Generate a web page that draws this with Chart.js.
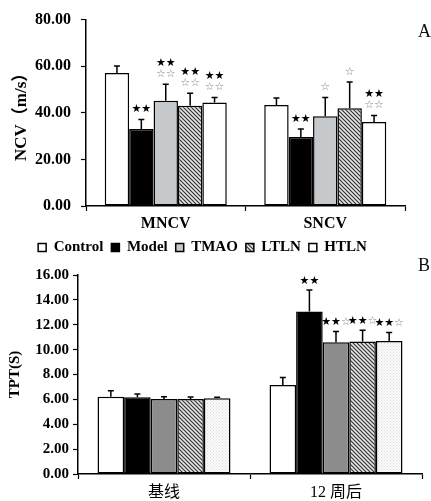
<!DOCTYPE html>
<html>
<head>
<meta charset="utf-8">
<script src="https://cdn.jsdelivr.net/npm/chart.js@4.4.0/dist/chart.umd.min.js"></script>
<style>
    body { margin: 0; background: #fff; }
    #wrap { position: relative; width: 431px; height: 501px; overflow: hidden; background: #fff; }
    canvas { position: absolute; left: 0; }
    #ncvChart { top: 0; }
    #tptChart { top: 250px; }
    .panel { position: absolute; font-family: 'Liberation Serif', serif; font-size: 18px; color: #111; }
</style>
</head>
<body>
<div id="wrap">
    <canvas id="ncvChart" width="431" height="265"></canvas>
    <canvas id="tptChart" width="431" height="251"></canvas>
    <div class="panel" style="left: 418px; top: 21px;">A</div>
    <div class="panel" style="left: 418px; top: 255px;">B</div>
</div>
<script>
// Groups and categories
const groupNames = ['Control', 'Model', 'TMAO', 'LTLN', 'HTLN'];
const ncvCategories = ['MNCV', 'SNCV'];
const tptCategories = ['基线', '12 周后'];

// Panel A: NCV (m/s), one row per group [MNCV, SNCV]
const ncvMeans = [[57.1, 43.3], [33.1, 29.6], [45.2, 38.5], [43.0, 41.9], [44.4, 36.0]];
const ncvSD = [[3.0, 3.0], [4.0, 3.5], [7.0, 8.1], [5.4, 11.3], [2.2, 2.8]];
// B = black star, W = open star, | = new line (top line first)
const ncvStars = [['', ''], ['BB', 'BB'], ['BB|WW', 'W'], ['BB|WW', 'W'], ['BB|WW', 'BB|WW']];

// Panel B: TPT (s), one row per group [baseline, 12 weeks]
const tptMeans = [[6.22, 7.15], [6.17, 13.07], [6.04, 10.6], [6.04, 10.65], [6.09, 10.7]];
const tptSD = [[0.48, 0.6], [0.27, 1.73], [0.18, 0.86], [0.16, 0.9], [0.08, 0.68]];
const tptStars = [['', ''], ['', 'BB'], ['', 'BBW'], ['', 'BBW'], ['', 'BBW']];

const SERIF = "'Liberation Serif', 'Noto Sans CJK SC', serif";

// Fill patterns
function hatchPattern() {
    const c = document.createElement('canvas');
    c.width = 4; c.height = 4;
    const g = c.getContext('2d');
    g.fillStyle = '#e6e6e6';
    g.fillRect(0, 0, 4, 4);
    g.strokeStyle = '#333';
    g.lineWidth = 1.2;
    g.beginPath();
    g.moveTo(-1, -1); g.lineTo(5, 5);
    g.moveTo(-1, 3); g.lineTo(1, 5);
    g.moveTo(3, -1); g.lineTo(5, 1);
    g.stroke();
    return g.createPattern(c, 'repeat');
}

function dotPattern() {
    const c = document.createElement('canvas');
    c.width = 3; c.height = 3;
    const g = c.getContext('2d');
    g.fillStyle = '#fbfbfb';
    g.fillRect(0, 0, 3, 3);
    g.fillStyle = '#dcdcdc';
    g.fillRect(0, 0, 1, 1);
    g.fillRect(1.5, 1.5, 1, 1);
    return g.createPattern(c, 'repeat');
}

function groupFills(tmaoColor, htlnFill) {
    return ['#ffffff', '#000000', tmaoColor, hatchPattern(), htlnFill];
}

// Error bars (mean + SD, upper only) and significance stars
const errorStarPlugin = {
    id: 'errorStars',
    afterDatasetsDraw(chart, args, opts) {
        const ctx = chart.ctx;
        const yScale = chart.scales.y;
        chart.data.datasets.forEach((ds, di) => {
            const meta = chart.getDatasetMeta(di);
            meta.data.forEach((bar, i) => {
                const top = yScale.getPixelForValue(ds.data[i] + opts.sd[di][i]);
                ctx.save();
                ctx.strokeStyle = '#000';
                ctx.lineWidth = 1.5;
                ctx.beginPath();
                ctx.moveTo(bar.x, bar.y);
                ctx.lineTo(bar.x, top);
                ctx.moveTo(bar.x - 3, top);
                ctx.lineTo(bar.x + 3, top);
                ctx.stroke();

                const lines = opts.stars[di][i] ? opts.stars[di][i].split('|') : [];
                ctx.font = opts.starFont;
                ctx.textBaseline = 'middle';
                ctx.textAlign = 'left';
                lines.forEach((line, li) => {
                    const y = top - opts.gap - (lines.length - 1 - li) * opts.lineGap;
                    const glyphs = line.split('').map(ch => ch === 'B' ? '★' : '☆');
                    const widths = glyphs.map(gl => ctx.measureText(gl).width);
                    let x = bar.x - widths.reduce((a, b) => a + b, 0) / 2;
                    glyphs.forEach((gl, k) => {
                        ctx.fillStyle = gl === '★' ? '#000' : '#8a8a8a';
                        ctx.fillText(gl, x, y);
                        x += widths[k];
                    });
                });
                ctx.restore();
            });
        });
    }
};

function buildDatasets(means, fills, catPct) {
    return groupNames.map((name, i) => ({
        label: name,
        data: means[i],
        backgroundColor: fills[i],
        borderColor: '#000',
        borderWidth: 1.5,
        borderSkipped: false,
        categoryPercentage: catPct,
        barPercentage: 1
    }));
}

function axisOptions(cfg) {
    return {
        x: {
            afterFit: scale => { scale.height = cfg.xHeight; },
            grid: { offset: true, drawOnChartArea: false, color: '#000', tickLength: 5, tickWidth: 1.2 },
            border: { color: '#000', width: 1.5 },
            ticks: { color: '#000', padding: cfg.xPad, font: cfg.xFont }
        },
        y: {
            min: 0,
            max: cfg.yMax,
            afterFit: scale => { scale.width = cfg.yWidth; },
            grid: { drawOnChartArea: false, color: '#000', tickLength: 5, tickWidth: 1.2 },
            border: { color: '#000', width: 1.5 },
            ticks: {
                stepSize: cfg.yStep,
                color: '#000',
                padding: cfg.yPad,
                font: cfg.yFont,
                callback: v => v.toFixed(2)
            },
            title: {
                display: true,
                text: cfg.yTitle,
                color: '#000',
                font: cfg.yTitleFont,
                padding: { top: cfg.titlePad, bottom: 0 }
            }
        }
    };
}

document.addEventListener('DOMContentLoaded', function() {
    // Panel A
    new Chart(document.getElementById('ncvChart').getContext('2d'), {
        type: 'bar',
        data: {
            labels: ncvCategories,
            datasets: buildDatasets(ncvMeans, groupFills('#c6c9cc', '#ffffff'), 0.765)
        },
        options: {
            responsive: false,
            animation: false,
            layout: { padding: { left: 0, right: 26, top: 16, bottom: 0 } },
            scales: axisOptions({
                xHeight: 26, xPad: 3,
                xFont: { family: SERIF, size: 16, weight: 'bold' },
                yMax: 80, yStep: 20, yWidth: 86, yPad: 10,
                yFont: { family: SERIF, size: 16, weight: 'bold' },
                yTitle: 'NCV（m/s）',
                yTitleFont: { family: SERIF, size: 17, weight: 'bold' },
                titlePad: 11
            }),
            plugins: {
                legend: {
                    position: 'bottom',
                    align: 'center',
                    labels: {
                        color: '#000',
                        boxWidth: 8,
                        boxHeight: 8,
                        padding: 8,
                        font: { family: SERIF, size: 15, weight: 'bold' }
                    }
                },
                tooltip: { enabled: false },
                errorStars: { sd: ncvSD, stars: ncvStars, gap: 10, lineGap: 11, starFont: '11px DejaVu Sans' }
            }
        },
        plugins: [errorStarPlugin]
    });

    // Panel B
    new Chart(document.getElementById('tptChart').getContext('2d'), {
        type: 'bar',
        data: {
            labels: tptCategories,
            datasets: buildDatasets(tptMeans, groupFills('#8c8c8c', dotPattern()), 0.773)
        },
        options: {
            responsive: false,
            animation: false,
            layout: { padding: { left: 0, right: 9, top: 25, bottom: 0 } },
            scales: axisOptions({
                xHeight: 27, xPad: 4,
                xFont: { family: SERIF, size: 16, weight: 'normal' },
                yMax: 16, yStep: 2, yWidth: 78, yPad: 4,
                yFont: { family: SERIF, size: 15, weight: 'bold' },
                yTitle: 'TPT(S)',
                yTitleFont: { family: SERIF, size: 15, weight: 'bold' },
                titlePad: 6
            }),
            plugins: {
                legend: { display: false },
                tooltip: { enabled: false },
                errorStars: { sd: tptSD, stars: tptStars, gap: 9, lineGap: 11, starFont: '11px DejaVu Sans' }
            }
        },
        plugins: [errorStarPlugin]
    });
});
</script>
</body>
</html>
